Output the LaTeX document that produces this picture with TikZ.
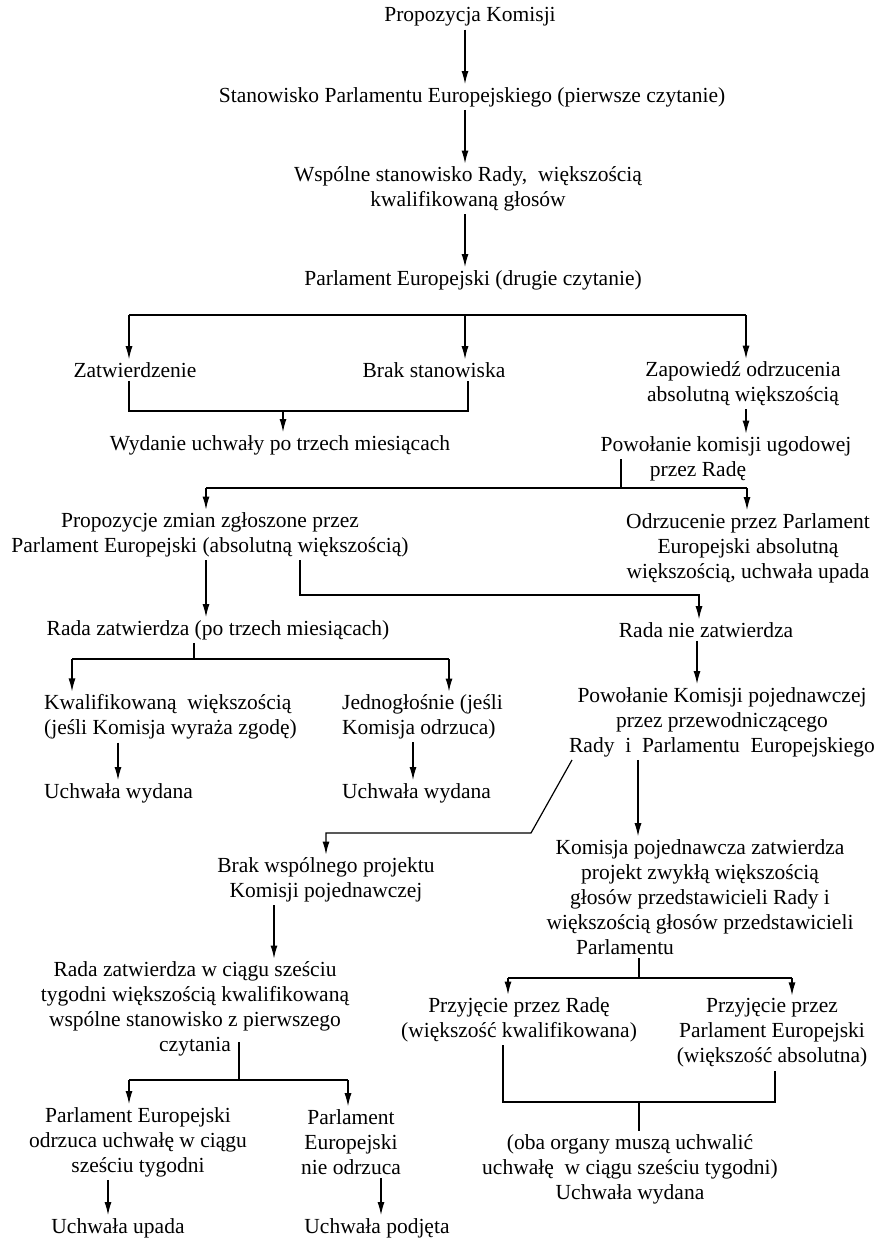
\documentclass[tikz,border=0pt]{standalone}
\usepackage{fontspec}
\setmainfont{Liberation Serif}
\usepackage{tikz}
\usetikzlibrary{arrows.meta,positioning,calc}

\begin{document}
\begin{tikzpicture}[
  x=1pt, y=-1pt,
  font=\fontsize{21.5}{25}\selectfont,
  txt/.style={align=center, inner sep=3pt},
  txtl/.style={align=left, inner sep=3pt, anchor=west},
  ln/.style={line width=1.2pt, black},
  ar/.style={-{Latex[length=13pt,width=7pt]}, line width=1.2pt, black}
]
\useasboundingbox (0,0) rectangle (875,1241);

% ==================== 1. PIERWSZE CZYTANIE ====================
\node[txt] (prop_kom) at (470,17) {Propozycja Komisji};
\node[txt] (stan_pe1) at (472,97) {Stanowisko Parlamentu Europejskiego (pierwsze czytanie)};
\node[txt] (wsp_rada) at (468,189) {Wspólne stanowisko Rady,~ większością\\kwalifikowaną głosów};
\node[txt] (pe_drugie) at (473,280) {Parlament Europejski (drugie czytanie)};

\coordinate (col_a) at (465,0);
\draw[ar] (prop_kom.south -| col_a) -- (stan_pe1.north -| col_a);
\draw[ar] (stan_pe1.south -| col_a) -- (wsp_rada.north -| col_a);
\draw[ar] (wsp_rada.south -| col_a) -- (pe_drugie.north -| col_a);

% ==================== 2. DRUGIE CZYTANIE ====================
\node[txt] (zatw) at (135,370) {Zatwierdzenie};
\node[txt] (brak_st) at (434,370) {Brak stanowiska};
\node[txt] (zapow) at (743,384) {Zapowiedź odrzucenia\\absolutną większością};
\node[txt] (wydanie) at (280,445) {Wydanie uchwały po trzech miesiącach};
\node[txt] (pow_ugod) at (726,459) {Powołanie komisji ugodowej\\przez Radę\hspace*{56pt}};

\coordinate (br1_l) at (129,315);
\coordinate (br1_m) at (465,315);
\coordinate (br1_r) at (746,315);
\draw[ln] (br1_l) -- (br1_r);
\draw[ar] (br1_l) -- (zatw.north -| br1_l);
\draw[ar] (br1_m) -- (brak_st.north -| br1_m);
\draw[ar] (br1_r) -- (zapow.north -| br1_r);

\coordinate (br2_l) at (129,411);
\coordinate (br2_m) at (283,411);
\coordinate (br2_r) at (468,411);
\draw[ln] (zatw.south -| br2_l) -- (br2_l) -- (br2_r) -- (brak_st.south -| br2_r);
\draw[ar] (br2_m) -- (wydanie.north -| br2_m);
\draw[ar] (zapow.south -| br1_r) -- (pow_ugod.north -| br1_r);

% ==================== 3. KOMISJA UGODOWA ====================
\node[txt] (prop_zm) at (210,535) {Propozycje zmian zgłoszone przez\\Parlament Europejski (absolutną większością)};
\node[txt] (odrz_pe) at (748,548) {Odrzucenie przez Parlament\\Europejski absolutną\\większością, uchwała upada};
\node[txt] (rada_zatw) at (218,630) {Rada zatwierdza (po trzech miesiącach)};
\node[txt] (rada_nie) at (706,630) {Rada nie zatwierdza};

\coordinate (br3_l) at (206,488);
\coordinate (br3_m) at (621,488);
\coordinate (br3_r) at (747,488);
\draw[ln] (pow_ugod.west -| br3_m) -- (br3_m);
\draw[ln] (br3_l) -- (br3_r);
\draw[ar] (br3_l) -- (prop_zm.north -| br3_l);
\draw[ar] (br3_r) -- (odrz_pe.north -| br3_r);

\coordinate (br4_s) at (300,595);
\coordinate (br4_r) at (699,595);
\draw[ar] (prop_zm.south -| br3_l) -- (rada_zatw.north -| br3_l);
\draw[ar] (prop_zm.south -| br4_s) -- (br4_s) -- (br4_r) -- (rada_nie.north -| br4_r);

% ==================== 4. RADA ZATWIERDZA ====================
\node[txtl] (kwal) at (41,717) {Kwalifikowaną~ większością\\(jeśli Komisja wyraża zgodę)};
\node[txtl] (jednogl) at (339,717) {Jednogłośnie (jeśli\\Komisja odrzuca)};
\node[txtl] (uchw_wyd1) at (41,793) {Uchwała wydana};
\node[txtl] (uchw_wyd2) at (339,793) {Uchwała wydana};

\coordinate (br5_s) at (194,659);
\coordinate (br5_l) at (72,659);
\coordinate (br5_r) at (449,659);
\draw[ln] (rada_zatw.south -| br5_s) -- (br5_s);
\draw[ln] (br5_l) -- (br5_r);
\draw[ar] (br5_l) -- (kwal.north -| br5_l);
\draw[ar] (br5_r) -- (jednogl.north -| br5_r);

\coordinate (col_b) at (118,0);
\coordinate (col_c) at (413,0);
\draw[ar] (kwal.south -| col_b) -- (uchw_wyd1.north -| col_b);
\draw[ar] (jednogl.south -| col_c) -- (uchw_wyd2.north -| col_c);

% ==================== 5. KOMISJA POJEDNAWCZA ====================
\node[txt] (pow_pojed) at (722,722) {Powołanie Komisji pojednawczej\\przez przewodniczącego\\Rady~ i~ Parlamentu~ Europejskiego};
\node[txt] (brak_proj) at (326,880) {Brak wspólnego projektu\\Komisji pojednawczej};
\node[txt] (kom_zatw) at (700,897) {Komisja pojednawcza zatwierdza\\projekt zwykłą większością\\głosów przedstawicieli Rady i\\większością głosów przedstawicieli\\Parlamentu\hspace*{150pt}};

\coordinate (col_d) at (697,0);
\coordinate (col_e) at (638,0);
\coordinate (diag_s) at (572,0);
\coordinate (diag_e) at (531,833);
\draw[ar] (rada_nie.south -| col_d) -- (pow_pojed.north -| col_d);
\draw[ar] (pow_pojed.south -| diag_s) -- (diag_e) -| (brak_proj.north);
\draw[ar] (pow_pojed.south -| col_e) -- (kom_zatw.north -| col_e);

% ==================== 6. BRAK PROJEKTU ====================
\node[txt] (rada_szesc) at (195,1009) {Rada zatwierdza w ciągu sześciu\\tygodni większością kwalifikowaną\\wspólne stanowisko z pierwszego\\czytania};
\node[txt] (pe_odrz) at (138,1142) {Parlament Europejski\\odrzuca uchwałę w ciągu\\sześciu tygodni};
\node[txt] (pe_nie) at (351,1142) {Parlament\\Europejski\\nie odrzuca};
\node[txt] (uchw_upada) at (118,1228) {Uchwała upada};
\node[txt] (uchw_podj) at (377,1228) {Uchwała podjęta};

\coordinate (col_f) at (274,0);
\draw[ar] (brak_proj.south -| col_f) -- (rada_szesc.north -| col_f);

\coordinate (br6_t) at (239,1042);
\coordinate (br6_s) at (239,1080);
\coordinate (br6_l) at (129,1080);
\coordinate (br6_r) at (348,1080);
\draw[ln] (br6_t) -- (br6_s);
\draw[ln] (br6_l) -- (br6_r);
\draw[ar] (br6_l) -- (pe_odrz.north -| br6_l);
\draw[ar] (br6_r) -- (pe_nie.north -| br6_r);

\coordinate (col_g) at (108,0);
\coordinate (col_h) at (381,0);
\draw[ar] (pe_odrz.south -| col_g) -- (uchw_upada.north -| col_g);
\draw[ar] (pe_nie.south -| col_h) -- (uchw_podj.north -| col_h);

% ==================== 7. PROJEKT ZATWIERDZONY ====================
\node[txt] (przyj_rada) at (519,1020) {Przyjęcie przez Radę\\(większość kwalifikowana)};
\node[txt] (przyj_pe) at (772,1033) {Przyjęcie przez\\Parlament Europejski\\(większość absolutna)};
\node[txt] (oba) at (630,1169) {(oba organy muszą uchwalić\\uchwałę~ w ciągu sześciu tygodni)\\Uchwała wydana};

\coordinate (br7_s) at (639,978);
\coordinate (br7_l) at (508,978);
\coordinate (br7_r) at (792,978);
\draw[ln] (kom_zatw.south -| br7_s) -- (br7_s);
\draw[ln] (br7_l) -- (br7_r);
\draw[ar] (br7_l) -- (przyj_rada.north -| br7_l);
\draw[ar] (br7_r) -- (przyj_pe.north -| br7_r);

\coordinate (br8_l) at (503,1102);
\coordinate (br8_m) at (639,1102);
\coordinate (br8_r) at (775,1102);
\draw[ln] (przyj_rada.south -| br8_l) -- (br8_l) -- (br8_r) -- (przyj_pe.south -| br8_r);
\draw[ln] (br8_m) -- (oba.north -| br8_m);

\end{tikzpicture}
\end{document}
